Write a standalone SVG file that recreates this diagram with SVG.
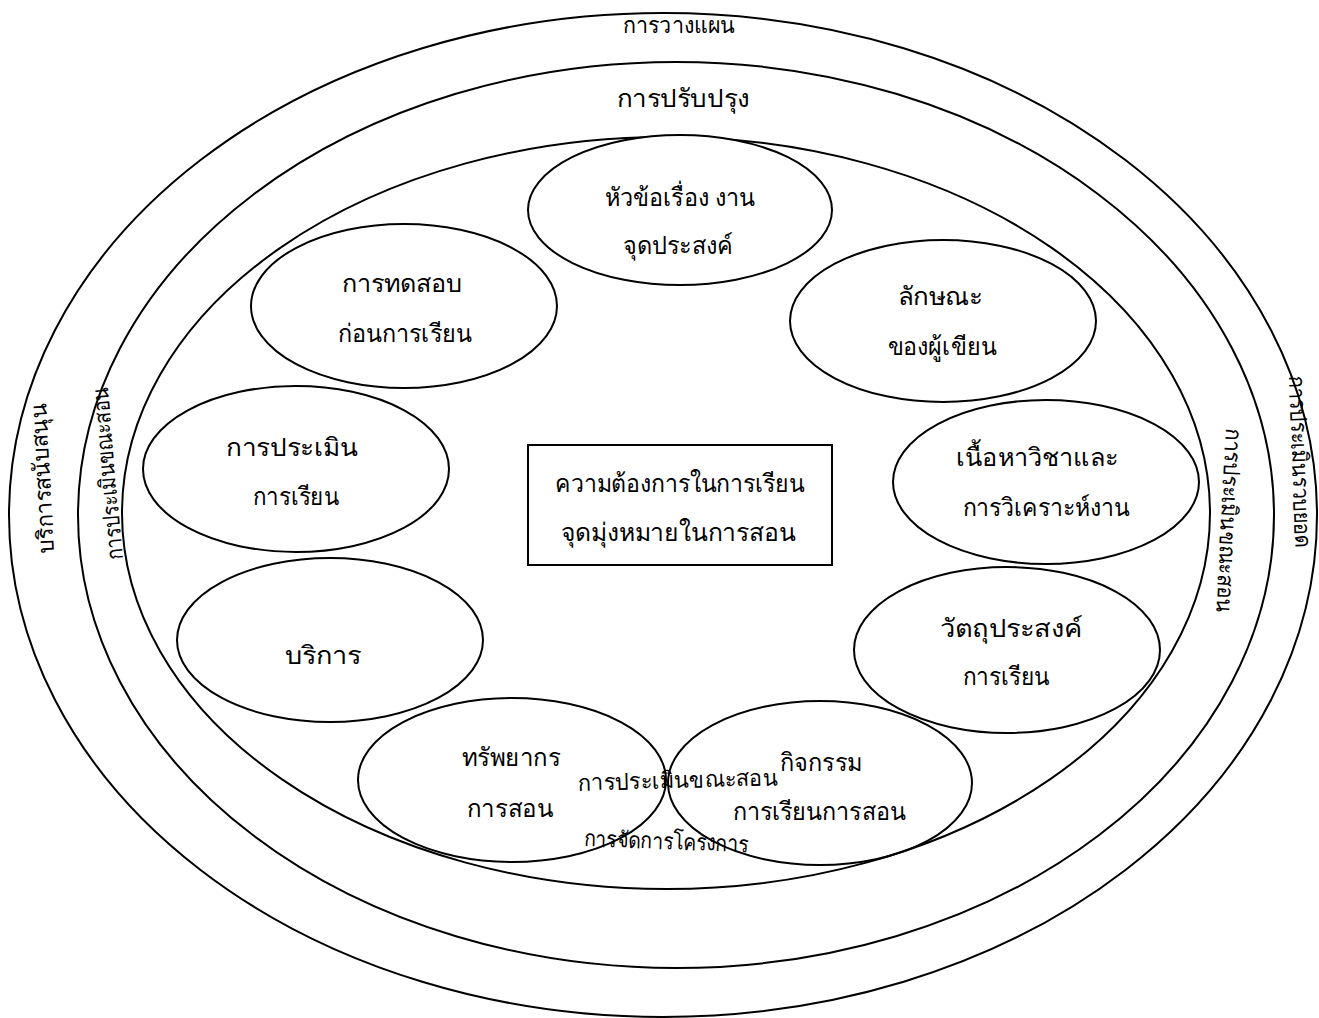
<svg xmlns="http://www.w3.org/2000/svg" width="1319" height="1018" viewBox="0 0 1319 1018">
<style>
.ring{fill:none;stroke:#000;stroke-width:2}
.node ellipse,.node rect{fill:#fff;stroke:#000;stroke-width:2}
.nodeo ellipse{fill:none;stroke:#000;stroke-width:2}
text{font-family:"Liberation Serif",serif;font-size:25px;fill:#000;text-anchor:middle}
.sm{font-size:23px}
</style>
<rect width="1319" height="1018" fill="#fff"/>
<g id="rings">
<ellipse class="ring" cx="663" cy="515" rx="654" ry="502"/>
<ellipse class="ring" cx="676" cy="515" rx="598" ry="453"/>
<ellipse class="ring" cx="666" cy="513" rx="544" ry="376"/>
</g>
<g id="ring-labels">
<text x="679" y="33" class="sm" textLength="112" lengthAdjust="spacingAndGlyphs">การวางแผน</text>
<text x="683" y="107" textLength="133" lengthAdjust="spacingAndGlyphs">การปรับปรุง</text>
<text class="sm" transform="translate(50,478) rotate(-93)" textLength="150" lengthAdjust="spacingAndGlyphs">บริการสนับสนุน</text>
<text class="sm" transform="translate(115,473) rotate(-95)" textLength="173" lengthAdjust="spacingAndGlyphs">การประเมินขณะสอน</text>
<text class="sm" transform="translate(1221,520) rotate(93)" textLength="185" lengthAdjust="spacingAndGlyphs">การประเมินขณะสอน</text>
<text class="sm" transform="translate(1292,462) rotate(88)" textLength="173" lengthAdjust="spacingAndGlyphs">การประเมินรวบยอด</text>
</g>
<g id="n1" class="node"><ellipse cx="680" cy="210" rx="152" ry="75"/><text x="680" y="206" textLength="150" lengthAdjust="spacingAndGlyphs">หัวข้อเรื่อง งาน</text><text x="678" y="254" textLength="110" lengthAdjust="spacingAndGlyphs">จุดประสงค์</text></g>
<g id="n2" class="node"><ellipse cx="943" cy="321" rx="153" ry="81"/><text x="940" y="305" textLength="85" lengthAdjust="spacingAndGlyphs">ลักษณะ</text><text x="942" y="355" textLength="109" lengthAdjust="spacingAndGlyphs">ของผู้เขียน</text></g>
<g id="n3" class="node"><ellipse cx="1046" cy="482" rx="153" ry="82"/><text x="1037" y="466" textLength="162" lengthAdjust="spacingAndGlyphs">เนื้อหาวิชาและ</text><text x="1046" y="516" textLength="167" lengthAdjust="spacingAndGlyphs">การวิเคราะห์งาน</text></g>
<g id="n4" class="node"><ellipse cx="1007" cy="650" rx="153" ry="83"/><text x="1011" y="637" textLength="143" lengthAdjust="spacingAndGlyphs">วัตถุประสงค์</text><text x="1006" y="685" textLength="87" lengthAdjust="spacingAndGlyphs">การเรียน</text></g>
<g id="n9" class="node"><ellipse cx="404" cy="306" rx="153" ry="82"/><text x="402" y="292" textLength="121" lengthAdjust="spacingAndGlyphs">การทดสอบ</text><text x="405" y="342" textLength="134" lengthAdjust="spacingAndGlyphs">ก่อนการเรียน</text></g>
<g id="n8" class="node"><ellipse cx="296" cy="469" rx="153" ry="83"/><text x="292" y="456" textLength="132" lengthAdjust="spacingAndGlyphs">การประเมิน</text><text x="296" y="505" textLength="86" lengthAdjust="spacingAndGlyphs">การเรียน</text></g>
<g id="n7" class="node"><ellipse cx="330" cy="640" rx="153" ry="82"/><text x="323" y="664" textLength="77" lengthAdjust="spacingAndGlyphs">บริการ</text></g>
<g id="n6" class="nodeo"><ellipse cx="512" cy="780" rx="154" ry="82"/><text x="511" y="766" textLength="98" lengthAdjust="spacingAndGlyphs">ทรัพยากร</text><text x="510" y="817" textLength="86" lengthAdjust="spacingAndGlyphs">การสอน</text></g>
<g id="n5" class="nodeo"><ellipse cx="820" cy="783" rx="152" ry="82"/><text x="821" y="771" textLength="82" lengthAdjust="spacingAndGlyphs">กิจกรรม</text><text x="819" y="820" textLength="173" lengthAdjust="spacingAndGlyphs">การเรียนการสอน</text></g>
<g id="n0" class="node"><rect x="528" y="445" width="304" height="120"/><text x="680" y="492" textLength="250" lengthAdjust="spacingAndGlyphs">ความต้องการในการเรียน</text><text x="678" y="541" textLength="235" lengthAdjust="spacingAndGlyphs">จุดมุ่งหมายในการสอน</text></g>
<g id="inner-labels">
<text class="sm" transform="translate(678,788) rotate(-1.5)" textLength="200" lengthAdjust="spacingAndGlyphs">การประเมินขณะสอน</text>
<text class="sm" transform="translate(666,849) rotate(2)" textLength="165" lengthAdjust="spacingAndGlyphs">การจัดการโครงการ</text>
</g>
</svg>
